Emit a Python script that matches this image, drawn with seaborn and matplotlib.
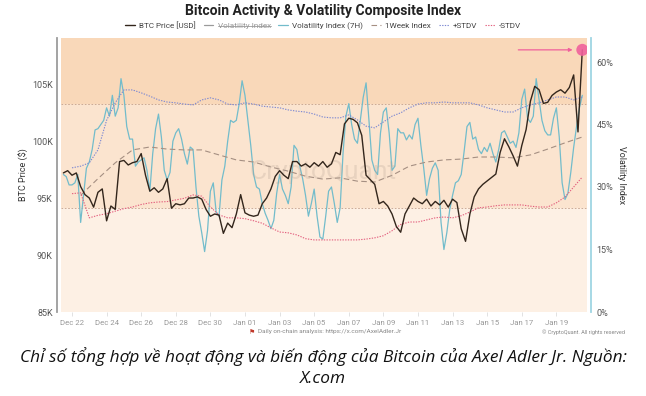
import pandas as pd
import numpy as np
import matplotlib
matplotlib.use('Agg')
import matplotlib.pyplot as plt
import matplotlib.dates as mdates
from matplotlib.lines import Line2D
from matplotlib.ticker import FuncFormatter
import seaborn as sns

# data (price in K USD, volatility in %)
btc_price = [
    97.2, 97.4,
    97.0, 97.2, 96.0, 95.3,
    95.0, 94.2, 95.5, 95.8,
    93.0, 94.3, 94.0, 98.2,
    98.3, 97.9, 98.1, 98.2,
    98.9, 97.0, 95.6, 95.9,
    95.5, 95.8, 96.7, 94.1,
    94.5, 94.4, 94.5, 95.0,
    95.0, 95.1, 94.9, 94.0,
    93.4, 93.6, 93.5, 91.9,
    92.8, 92.4, 93.6, 95.3,
    93.7, 93.5, 93.4, 93.5,
    94.5, 95.0, 95.8, 96.9,
    97.4, 97.0, 96.7, 98.2,
    98.2, 97.8, 98.0, 97.7,
    98.1, 97.8, 98.2, 97.7,
    98.0, 99.0, 98.8, 101.5,
    102.0, 101.9, 101.6, 100.5,
    97.0, 96.6, 96.2, 94.5,
    94.7, 94.3, 93.6, 92.5,
    92.0, 93.6, 94.3, 95.0,
    94.7, 94.5, 94.9, 94.3,
    94.7, 94.4, 94.8, 94.2,
    94.9, 94.6, 92.3, 91.2,
    93.6, 95.1, 95.8, 96.2,
    96.5, 96.8, 97.1, 99.0,
    100.2, 99.5, 98.7, 97.8,
    99.6, 101.0, 103.5, 104.8,
    104.5, 103.3, 103.4, 104.0,
    104.3, 104.5, 104.2, 104.7,
    105.8, 100.8, 108.0,
]
price_times = pd.date_range('2024-12-21 12:00', periods=len(btc_price), freq='6h')

vol_7h = [
    33, 32.5, 30.5, 30.5, 31, 33,
    21.5, 28, 34.5, 36, 39, 43.7,
    44, 45, 46, 49, 47, 52,
    47, 49, 56, 52, 44.5, 41.5,
    41.5, 35, 36, 36.5, 37, 34,
    29, 38, 44, 47.5, 42, 34,
    31.7, 33.5, 41, 43, 44, 41.5,
    38, 35.5, 39.6, 39, 30, 23,
    19, 14.5, 19.5, 29, 31, 24,
    23, 31.7, 35, 41, 46, 45.5,
    46, 50, 55.5, 52, 46, 40,
    33, 30, 29.5, 26, 23.7, 22,
    20, 22, 28.5, 33, 29.5, 28,
    26, 30, 40, 39, 35, 32,
    28, 23, 26, 29.5, 23, 18,
    17.5, 23, 29, 30, 26, 21.5,
    25, 38, 47, 50, 45, 41.5,
    40.5, 46, 51.5, 55, 46, 36.5,
    34, 33, 43, 48, 49, 43,
    34, 35, 44, 43, 43, 41.3,
    42.5, 41.5, 45, 46.5, 40, 34.5,
    28, 32, 34.5, 35.8, 34, 21.5,
    15, 19, 24.5, 28, 31, 31.5,
    33, 38.5, 44.5, 45.5, 41.5, 42,
    39, 38, 39.5, 38.5, 40.5, 38,
    36, 39, 43, 43.5, 42, 40.5,
    41, 39.5, 43, 51, 53.5, 46.5,
    45.5, 47, 56, 51, 46, 43.5,
    42.5, 42.5, 46.5, 49, 42, 31,
    27, 28.5, 33.5, 39.5, 44.5, 49,
    52,
]
vol_times = pd.date_range('2024-12-21 12:00', periods=len(vol_7h), freq='4h')

week_index = [28, 32, 35.8, 38.9, 39.6, 39.1, 38.9, 38.9, 37.7, 36.5,
              36, 34.8, 33.8, 32.6, 31.9, 32.2, 31.4, 31.2, 32.8, 35.0,
              36, 36.5, 36.7, 37.2, 37.2, 37, 37.7, 39.1, 40.6, 42]
week_times = pd.date_range('2024-12-22 12:00', periods=len(week_index), freq='D')

plus_stdv = [34.6, 35, 35.8, 38.9, 46, 50.2, 53.3, 53.3, 52.6, 51.8,
             50.9, 50.4, 50.2, 49.9, 49.7, 50.9, 51.4, 50.9, 49.9, 49.7,
             50.2, 49.9, 49.4, 49.2, 49, 48.5, 48.2, 48, 47.5, 46.8,
             46.6, 46.6, 47.3, 46.1, 44.6, 44.2, 45.6, 47, 47.8, 49,
             49.9, 50.2, 50.2, 50.4, 50.2, 50.2, 50.2, 49.7, 49, 48.5,
             48, 48, 49, 49.7, 50.2, 50.9, 51.6, 51.6, 50.9, 51.6]
minus_stdv = [28.4, 28.6, 22.6, 23.2, 23.6, 24.2, 24.8, 25.2, 25.8, 26.2,
              26.4, 26.5, 26.9, 27.3, 28.1, 27.8, 25.2, 23.3, 22.6, 22.6,
              22.4, 21.9, 21.3, 20.2, 19.2, 19.0, 18.5, 17.6, 17.3, 17.3,
              17.3, 17.3, 17.3, 17.3, 17.5, 17.8, 18.3, 19.5, 21.0, 21.6,
              21.6, 22.1, 22.6, 22.8, 22.6, 23.1, 24.0, 25.0, 25.2, 25.5,
              25.7, 25.7, 25.7, 25.4, 25.2, 25.2, 26.2, 27.6, 30.0, 32.4]
stdv_times = pd.date_range('2024-12-22 00:00', periods=len(plus_stdv), freq='12h')

price_ticks = [85, 90, 95, 100, 105]
vol_ticks = [0, 15, 30, 45, 60]
upper_level, lower_level = 50, 25

sns.set_theme(style='white')
plt.rcParams['font.family'] = ['Roboto', 'DejaVu Sans']

fig = plt.figure(figsize=(6.46, 3.96), dpi=100)
ax = fig.add_axes([61 / 646, 1 - 312 / 396, 526 / 646, 274 / 396])
ax2 = ax.twinx()
ax.set_zorder(ax2.get_zorder() + 1)
ax.patch.set_visible(False)

# background zones
ax2.axhspan(upper_level, 70, color='#f9d8b9', lw=0, zorder=0)
ax2.axhspan(lower_level, upper_level, color='#fbe4cf', lw=0, zorder=0)
ax2.axhspan(-5, lower_level, color='#fdf0e4', lw=0, zorder=0)
for lvl in (upper_level, lower_level):
    ax2.axhline(lvl, color='#c4a08a', lw=0.6, ls=(0, (2, 2)), zorder=1)

sns.lineplot(x=vol_times, y=vol_7h, ax=ax2, color='#72bccb', lw=0.9, zorder=2)
h_vol = ax2.lines[-1]
sns.lineplot(x=week_times, y=week_index, ax=ax2, color='#a58f82', lw=0.8, zorder=2)
h_week = ax2.lines[-1]
h_week.set_dashes([5, 3])
sns.lineplot(x=stdv_times, y=plus_stdv, ax=ax2, color='#7c88d2', lw=0.8, zorder=2)
h_plus = ax2.lines[-1]
h_plus.set_dashes([1.2, 1.2])
sns.lineplot(x=stdv_times, y=minus_stdv, ax=ax2, color='#e35f7e', lw=0.8, zorder=2)
h_minus = ax2.lines[-1]
h_minus.set_dashes([1.2, 1.2])

sns.lineplot(x=price_times, y=btc_price, ax=ax, color='#33261c', lw=1.0, zorder=3)
h_price = ax.lines[-1]

# last point highlight
pink = '#f0609c'
ax.scatter([price_times[-1]], [btc_price[-1]], s=75, color=pink, alpha=0.9,
           zorder=4, edgecolor='none')
ax.annotate('', xy=(price_times[-1], btc_price[-1]), xytext=(-64, 0),
            textcoords='offset pixels',
            arrowprops=dict(arrowstyle='-|>', color=pink, lw=0.9,
                            shrinkA=0, shrinkB=7, mutation_scale=5))

ax.text(0.498, 0.51, 'CryptoQuant', transform=ax.transAxes, ha='center',
        va='center', fontsize=19, color='#b9a696', alpha=0.28, zorder=1)

# axes
ax.set_xlim(pd.Timestamp('2024-12-21 08:45'), pd.Timestamp('2025-01-20 18:30'))
ax.set_ylim(85, 109.04)
ax2.set_ylim(0, 65.76)
ax.set_yticks(price_ticks)
ax.yaxis.set_major_formatter(FuncFormatter(lambda v, p: f'{v:.0f}K'))
ax2.set_yticks(vol_ticks)
ax2.yaxis.set_major_formatter(FuncFormatter(lambda v, p: f'{v:.0f}%'))
ax.set_xticks(pd.date_range('2024-12-22', '2025-01-19', freq='2D'))
ax.xaxis.set_major_formatter(mdates.DateFormatter('%b %d'))

ax.set_xlabel('')
ax.set_ylabel('BTC Price ($)', fontsize=6.5, color='#333333', labelpad=2)
ax2.set_ylabel('Volatility Index', fontsize=6.5, color='#333333', rotation=270,
               labelpad=9)

for s in ('top', 'right', 'bottom'):
    ax.spines[s].set_visible(False)
for s in ('top', 'left', 'bottom'):
    ax2.spines[s].set_visible(False)
ax.spines['left'].set_position(('outward', 3))
ax.spines['left'].set_color('#9c9c9c')
ax.spines['left'].set_linewidth(1.3)
ax2.spines['right'].set_position(('outward', 3))
ax2.spines['right'].set_color('#9fd5e3')
ax2.spines['right'].set_linewidth(1.3)

ax.tick_params(axis='y', length=0, labelsize=6.5, labelcolor='#555555', pad=3)
ax2.tick_params(axis='y', length=0, labelsize=6.5, labelcolor='#555555', pad=4)
ax.tick_params(axis='x', bottom=True, length=3, width=0.6, color='#dddddd',
               labelsize=5.6, labelcolor='#999999', pad=3)
ax.grid(False)
ax2.grid(False)

# title, legend, footer
fig.text(0.5, 1 - 11 / 396, 'Bitcoin Activity & Volatility Composite Index',
         ha='center', va='center', fontsize=10, fontweight='bold', color='#222222')

h_hidden = Line2D([], [], color='#9a9a9a', lw=0.9)
handles = [h_price, h_hidden, h_vol, h_week, h_plus, h_minus]
labels = ['BTC Price [USD]', 'Volatility Index', 'Volatility Index (7H)',
          '1Week Index', '+STDV', '-STDV']
leg = fig.legend(handles, labels, loc='center', bbox_to_anchor=(0.5, 1 - 25.5 / 396),
                 ncol=6, frameon=False, fontsize=5.9, handlelength=1.2,
                 columnspacing=0.95, handletextpad=0.5)
for t in leg.get_texts():
    t.set_color('#444444')
leg.get_texts()[1].set_color('#9a9a9a')

fig.text(252 / 646, 1 - 332 / 396, '\u2691', ha='center', va='center',
         fontsize=5, color='#c0392b', family=['DejaVu Sans'])
fig.text(258 / 646, 1 - 332 / 396,
         'Daily on-chain analysis: https://x.com/AxelAdler.Jr',
         ha='left', va='center', fontsize=4.6, color='#888888')
fig.text(625 / 646, 1 - 332 / 396, '\u00a9 CryptoQuant. All rights reserved',
         ha='right', va='center', fontsize=4.0, color='#888888')

cap_font = ['Open Sans', 'DejaVu Sans']
fig.text(0.5, 1 - 357 / 396,
         'Chỉ số tổng hợp về hoạt động và biến động của Bitcoin của Axel Adler Jr. Nguồn:',
         ha='center', va='center', fontsize=12.4, style='italic', color='#111111',
         family=cap_font)
fig.text(0.5, 1 - 379 / 396, 'X.com', ha='center', va='center', fontsize=12.4,
         style='italic', color='#111111', family=cap_font)

# strike through the hidden series label
fig.canvas.draw()
bb = leg.get_texts()[1].get_window_extent().transformed(fig.transFigure.inverted())
ymid = (bb.y0 + bb.y1) / 2
fig.add_artist(Line2D([bb.x0, bb.x1], [ymid, ymid], color='#9a9a9a', lw=0.6,
                      transform=fig.transFigure))

fig.savefig('out.png', dpi=100)
